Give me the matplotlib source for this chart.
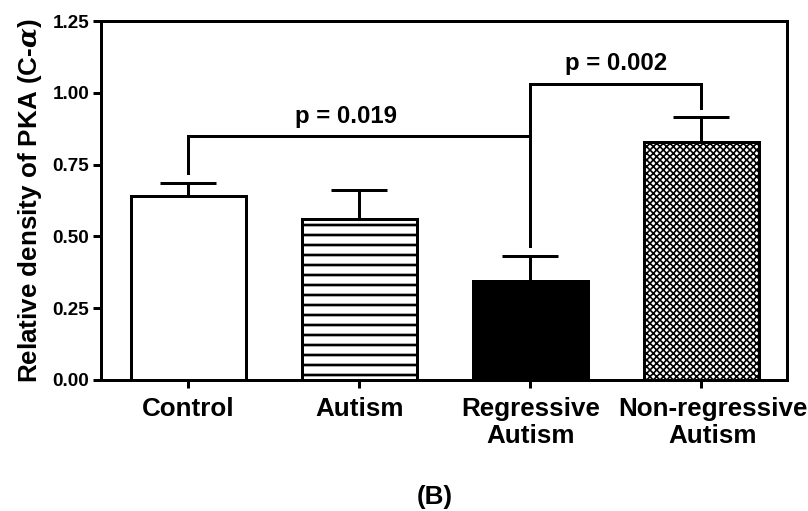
import matplotlib
matplotlib.use("Agg")
import matplotlib.pyplot as plt
from matplotlib.transforms import ScaledTranslation
import numpy as np

# ---- data ----
categories = ["Control", "Autism", "Regressive\nAutism", "Non-regressive\nAutism"]
means = [0.64, 0.56, 0.344, 0.829]
sem = [0.047, 0.103, 0.088, 0.085]
yticks = [0.00, 0.25, 0.50, 0.75, 1.00, 1.25]
ylabel = "Relative density of PKA (C-$\\alpha$)"
# comparisons: (group a, group b, bracket height, label)
comparisons = [(0, 2, 0.849, "p = 0.019"), (2, 3, 1.032, "p = 0.002")]
panel_label = "(B)"

# ---- style ----
DPI = 120
plt.rcParams["font.family"] = ["Liberation Sans", "DejaVu Sans"]
plt.rcParams["font.weight"] = "bold"
plt.rcParams["mathtext.fontset"] = "custom"
plt.rcParams["mathtext.it"] = "DejaVu Serif:italic:bold"

LW = 1.8
fig = plt.figure(figsize=(808 / DPI, 511 / DPI), dpi=DPI)
ax = fig.add_axes([101 / 808, 1 - 380 / 511, (787 - 101) / 808, (380 - 21) / 511])

x = np.arange(len(categories))
faces = ["white", "white", "black", "white"]
hatches = [None, "--", None, "xxxxxx"]
hatch_lw = [1.0, 1.6, 1.0, 1.0]
for i in range(len(categories)):
    with plt.rc_context({"hatch.linewidth": hatch_lw[i], "hatch.color": "black"}):
        ax.bar(x[i], means[i], width=0.67, color=faces[i], edgecolor="black",
               linewidth=LW, hatch=hatches[i], zorder=3)

ax.errorbar(x, means, yerr=[np.zeros(len(means)), sem], fmt="none", ecolor="black",
            elinewidth=LW, capsize=17, capthick=LW, zorder=2)

# significance brackets
tops = np.array(means) + np.array(sem)
gap = 0.033
for a, b, h, lab in comparisons:
    ya = tops[a] + gap
    yb = tops[b] + gap
    ax.plot([x[a], x[a], x[b], x[b]], [ya, h, h, yb], color="black", lw=LW,
            solid_joinstyle="miter", zorder=4)
    off = -0.08 if b - a > 1 else 0.0
    ax.text((x[a] + x[b]) / 2 + off, h + 0.03, lab, ha="center", va="bottom",
            fontsize=14.4, fontweight="bold")

ax.set_xlim(-0.51, 3.5)
ax.set_ylim(0, 1.25)
ax.set_yticks(yticks)
ax.set_yticklabels([f"{t:.2f}" for t in yticks], fontsize=11.3, fontweight="bold")
ax.set_xticks(x)
ax.set_xticklabels(categories, fontsize=15.6, fontweight="bold", linespacing=1.15)
ax.tick_params(axis="both", direction="out", length=5, width=LW, colors="black")
ax.tick_params(axis="x", pad=5)
ax.tick_params(axis="y", pad=2)
for s in ax.spines.values():
    s.set_linewidth(LW)
ax.set_ylabel(ylabel, fontsize=15.6, fontweight="bold", labelpad=5)

# last category label sits slightly right of its tick in the reference
lbl = ax.xaxis.get_major_ticks()[3].label1
lbl.set_transform(lbl.get_transform() + ScaledTranslation(11 / DPI, 0, fig.dpi_scale_trans))

fig.text(435 / 808, 1 - 497 / 511, panel_label, ha="center", va="center",
         fontsize=15.6, fontweight="bold")

fig.savefig("out.png", dpi=DPI)
